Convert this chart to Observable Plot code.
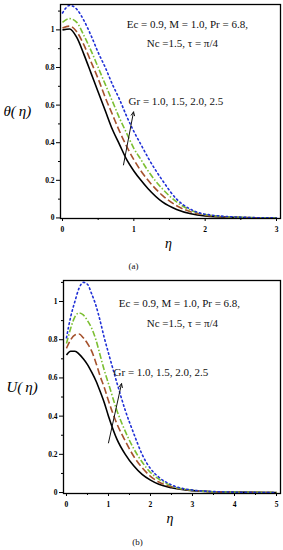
<!DOCTYPE html>
<html><head><meta charset="utf-8">
<script src="https://cdn.jsdelivr.net/npm/d3@7"></script>
<script src="https://cdn.jsdelivr.net/npm/@observablehq/plot@0.6"></script>
<style>
body{margin:0;background:#fff;width:283px;height:550px;overflow:hidden;font-family:"Liberation Serif",serif}
.cap{text-align:center;font-size:9px;color:#111;font-family:"Liberation Serif",serif}
#capA{height:17px;line-height:22px;margin-left:-16px}
#capB{height:20px;line-height:24px;margin-left:-8px}
</style></head><body>
<div id="a"></div><div class="cap" id="capA">(a)</div><div id="b"></div><div class="cap" id="capB">(b)</div>
<script>
// ---- data ----
const grLabels = ["1.0", "1.5", "2.0", "2.5"];
const seriesColors = ["#000000", "#a5522d", "#7cbf32", "#1f2fd6"];
const seriesDash = [null, "7,3", "6,2,1.5,2", "1.5,3"];

// Panel (a): theta(eta)
const etaA = [0, 0.1, 0.2, 0.3, 0.4, 0.5, 0.6, 0.7, 0.8, 0.9, 1.0, 1.1, 1.2, 1.4, 1.6, 1.8, 2.0, 2.5, 3.0];
const thetaGr10 = [1.00, 1.005, 0.96, 0.87, 0.77, 0.67, 0.57, 0.47, 0.39, 0.31, 0.25, 0.20, 0.155, 0.085, 0.045, 0.022, 0.011, 0.002, 0.0];
const thetaGr15 = [1.01, 1.02, 0.99, 0.92, 0.83, 0.74, 0.64, 0.55, 0.46, 0.38, 0.31, 0.25, 0.20, 0.12, 0.065, 0.032, 0.015, 0.002, 0.0];
const thetaGr20 = [1.04, 1.06, 1.04, 0.97, 0.89, 0.80, 0.71, 0.62, 0.53, 0.45, 0.37, 0.31, 0.25, 0.155, 0.085, 0.04, 0.018, 0.003, 0.0];
const thetaGr25 = [1.09, 1.13, 1.11, 1.05, 0.97, 0.88, 0.80, 0.71, 0.63, 0.54, 0.46, 0.39, 0.32, 0.20, 0.10, 0.045, 0.02, 0.004, 0.0];

// Panel (b): U(eta)
const etaB = [0, 0.1, 0.2, 0.3, 0.4, 0.5, 0.6, 0.7, 0.8, 0.9, 1.0, 1.2, 1.4, 1.6, 1.8, 2.0, 2.2, 2.5, 3.0, 3.5, 4.0, 5.0];
const uGr10 = [0.72, 0.74, 0.74, 0.725, 0.70, 0.67, 0.63, 0.585, 0.53, 0.47, 0.40, 0.28, 0.20, 0.14, 0.095, 0.065, 0.043, 0.025, 0.01, 0.004, 0.002, 0.0];
const uGr15 = [0.755, 0.80, 0.825, 0.83, 0.81, 0.78, 0.74, 0.68, 0.61, 0.55, 0.48, 0.36, 0.27, 0.19, 0.13, 0.085, 0.055, 0.03, 0.011, 0.004, 0.002, 0.0];
const uGr20 = [0.78, 0.86, 0.92, 0.94, 0.93, 0.90, 0.86, 0.80, 0.72, 0.64, 0.57, 0.43, 0.32, 0.23, 0.16, 0.105, 0.07, 0.035, 0.012, 0.004, 0.002, 0.0];
const uGr25 = [0.81, 0.92, 1.00, 1.07, 1.10, 1.09, 1.04, 0.98, 0.90, 0.81, 0.73, 0.575, 0.43, 0.31, 0.20, 0.125, 0.08, 0.04, 0.013, 0.005, 0.002, 0.0];

const paramLine1 = "Ec = 0.9, M = 1.0, Pr = 6.8,";
const paramLine2 = "Nc =1.5, \u03c4 = \u03c0/4";
const grText = "Gr = 1.0, 1.5, 2.0, 2.5";

const ticksA = [0, 1, 2, 3], minorA = [0.5, 1.5, 2.5];
const ticksB = [0, 1, 2, 3, 4, 5], minorB = [0.5, 1.5, 2.5, 3.5, 4.5];
const ticksY = [0, 0.2, 0.4, 0.6, 0.8, 1], minorY = [0.1, 0.3, 0.5, 0.7, 0.9, 1.1];

// ---- build ----
function table(eta, seriesList) {
  return seriesList.map((vals, i) => eta.map((e, j) => ({eta: e, v: vals[j], gr: grLabels[i]})));
}

function panel(opts) {
  const {eta, series, xDomain, yDomain, xTicks, xMinor, yLabel, centerTexts, grPos, arrow, height, marginTop} = opts;
  const data = table(eta, series);
  const marks = [];
  data.forEach((d, i) => {
    marks.push(Plot.line(d, {x: "eta", y: "v", stroke: seriesColors[i], strokeWidth: 1.6,
      strokeDasharray: seriesDash[i], strokeLinecap: i === 3 ? "round" : "butt", curve: "monotone-x", clip: true}));
  });
  marks.push(Plot.frame({strokeWidth: 1.3}));
  const fmt = d => String(d);
  marks.push(Plot.axisY(ticksY, {tickSize: 4, tickPadding: 2, fontWeight: "bold", fontSize: 7.5, tickFormat: fmt}));
  marks.push(Plot.axisY(minorY, {tickSize: 2, text: null}));
  marks.push(Plot.axisX(xTicks, {tickSize: 3, tickPadding: 5, fontWeight: "bold", fontSize: 7.5, label: null, tickFormat: fmt}));
  marks.push(Plot.axisX(xMinor, {tickSize: 2, text: null, label: null}));
  marks.push(Plot.text([yLabel], {frameAnchor: "left", dx: -57, textAnchor: "start", fontSize: 15, fontStyle: "italic", fontWeight: "normal", fontFamily: "Liberation Serif"}));
  marks.push(Plot.text(["\u03b7"], {frameAnchor: "bottom", dx: -2, dy: 29, fontSize: 14, fontStyle: "italic", fontWeight: "normal", fontFamily: "Liberation Serif"}));
  marks.push(Plot.text(centerTexts, {x: "x", y: "y", text: "t", textAnchor: "middle", fontSize: 11, fontWeight: "normal", fontFamily: "Liberation Serif", fill: "#111"}));
  marks.push(Plot.text([grPos], {x: "x", y: "y", text: "t", textAnchor: "start", fontSize: 11, fontWeight: "normal", fontFamily: "Liberation Serif", fill: "#111"}));
  marks.push(Plot.arrow([arrow], {x1: "x1", y1: "y1", x2: "x2", y2: "y2", stroke: "#111", strokeWidth: 1, headLength: 6, headAngle: 50}));
  return Plot.plot({
    width: 283, height, marginLeft: opts.marginLeft, marginRight: 3, marginTop, marginBottom: 37,
    x: {domain: xDomain, axis: null}, y: {domain: yDomain, axis: null},
    style: {fontFamily: "Liberation Serif", fontSize: "7.5px", color: "#000", background: "#fff"},
    marks
  });
}

document.getElementById("a").append(panel({
  eta: etaA, series: [thetaGr10, thetaGr15, thetaGr20, thetaGr25],
  xDomain: [-0.028, 3.056], yDomain: [-0.003, 1.135], xTicks: ticksA, xMinor: minorA,
  yLabel: "\u03b8(\u2009\u03b7)", height: 255, marginTop: 4, marginLeft: 60,
  centerTexts: [
    {x: 1.75, y: 1.027, t: paramLine1},
    {x: 1.68, y: 0.93, t: paramLine2}
  ],
  grPos: {x: 0.926, y: 0.617, t: grText},
  arrow: {x1: 0.855, y1: 0.282, x2: 0.996, y2: 0.564}
}));

document.getElementById("b").append(panel({
  eta: etaB, series: [uGr10, uGr15, uGr20, uGr25],
  xDomain: [-0.071, 5.095], yDomain: [-0.005, 1.11], xTicks: ticksB, xMinor: minorB,
  yLabel: "U(\u2009\u03b7)", height: 258, marginTop: 8, marginLeft: 63,
  centerTexts: [
    {x: 2.69, y: 0.99, t: paramLine1},
    {x: 2.76, y: 0.885, t: paramLine2}
  ],
  grPos: {x: 1.12, y: 0.628, t: grText},
  arrow: {x1: 1.0, y1: 0.26, x2: 1.31, y2: 0.57}
}));
</script></body></html>
